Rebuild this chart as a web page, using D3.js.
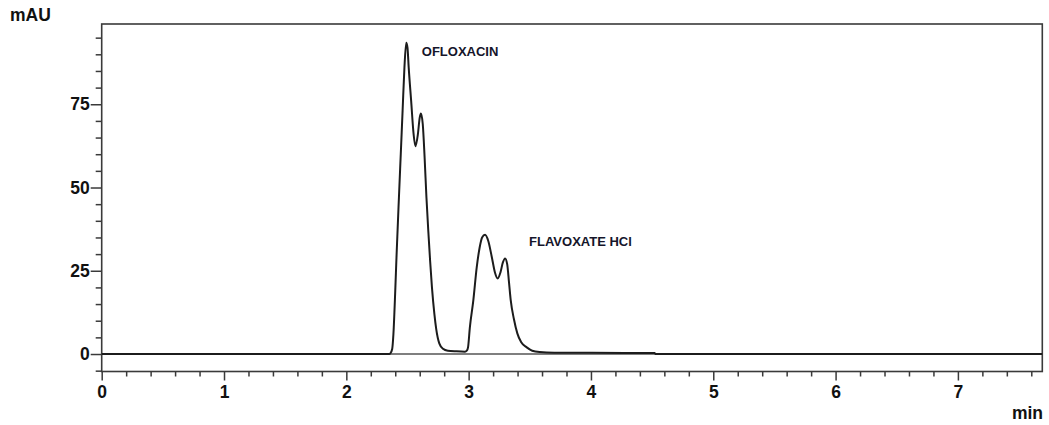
<!DOCTYPE html>
<html>
<head>
<meta charset="utf-8">
<script src="https://cdn.jsdelivr.net/npm/d3@7"></script>
<style>
    body { margin: 0; background: #fff; }
    #chromatogram { width: 1049px; height: 425px; }
    .tick text { font-family: "Liberation Sans", Arial, sans-serif; font-weight: bold; font-size: 17.5px; fill: #111; }
</style>
</head>
<body>
<div id="chromatogram"></div>
<script>

// retention time (min) and absorbance (mAU)
const timeMin = [0, 2.35, 2.36, 2.375, 2.385, 2.40, 2.41, 2.43, 2.445, 2.46, 2.475, 2.49, 2.50, 2.51, 2.53, 2.55, 2.565,
                 2.585, 2.60, 2.61, 2.625, 2.64, 2.655, 2.67, 2.685, 2.70, 2.72, 2.735, 2.76, 2.79, 2.83, 2.90, 2.97, 2.985, 2.995,
                 3.01, 3.038, 3.066, 3.09, 3.11, 3.134, 3.16, 3.19, 3.215, 3.238, 3.26, 3.28, 3.298, 3.315, 3.33, 3.344,
                 3.37, 3.398, 3.43, 3.475, 3.52, 3.58, 3.7, 4.0, 4.5, 4.52, 4.53, 7.69];
const absorbance = [0, 0, 0.2, 1.5, 6, 19, 29, 47, 60, 73, 86, 93.5, 92, 86, 76, 66, 62.4,
                    66, 71, 72.2, 69, 59, 47, 37, 28, 20, 12, 7.5, 3.2, 1.6, 1.0, 0.8, 0.7, 1, 2,
                    8, 16, 26, 32, 35, 35.8, 34, 29, 24.5, 22.7, 24.5, 27.5, 28.7, 27, 21.5, 16.2,
                    10.5, 6.2, 3.5, 2.0, 1.0, 0.6, 0.4, 0.35, 0.3, 0.3, 0, 0];

const xMajorTicks = [0, 1, 2, 3, 4, 5, 6, 7];
const yMajorTicks = [0, 25, 50, 75];

const peakNames = ["OFLOXACIN", "FLAVOXATE HCl"];
const peakLabelTime = [2.617, 3.494];
const peakLabelValue = [89.5, 32.3];


const renderChromatogram = function(svgElem) {

    const frame = {left: 101.7, right: 1042.3, top: 24, bottom: 371.5};

    const xScale = d3.scaleLinear()
                     .domain([0, 7.69])
                     .range([frame.left, frame.right]);

    const yScale = d3.scaleLinear()
                     .domain([-5.25, 99.1])
                     .range([frame.bottom, frame.top]);

    const trace = timeMin.map(function(t, i) {
        return {t: t, v: absorbance[i]};
    });

    // minor ticks every 0.2 min and every 5 mAU
    const xMinor = d3.range(0, 38.5).map(function(i) { return +(i * 0.2).toFixed(1); })
                     .filter(function(t) { return t <= 7.69 && xMajorTicks.indexOf(t) < 0; });
    const yMinor = d3.range(-1, 20).map(function(i) { return i * 5; })
                     .filter(function(v) { return yMajorTicks.indexOf(v) < 0; });

    const axisColor = '#3a3a3a';

    const xMinorAxis = svgElem.append('g')
                              .attr('transform', `translate(0, ${frame.bottom})`)
                              .call(d3.axisBottom(xScale).tickValues(xMinor).tickSize(5).tickFormat(''));
    const xAxisGroup = svgElem.append('g')
                              .attr('id', 'x-axis')
                              .attr('transform', `translate(0, ${frame.bottom})`)
                              .call(d3.axisBottom(xScale).tickValues(xMajorTicks).tickSize(9).tickSizeOuter(0).tickPadding(5));

    const yMinorAxis = svgElem.append('g')
                              .attr('transform', `translate(${frame.left}, 0)`)
                              .call(d3.axisLeft(yScale).tickValues(yMinor).tickSize(6).tickFormat(''));
    const yAxisGroup = svgElem.append('g')
                              .attr('id', 'y-axis')
                              .attr('transform', `translate(${frame.left}, 0)`)
                              .call(d3.axisLeft(yScale).tickValues(yMajorTicks).tickSize(11).tickSizeOuter(0).tickPadding(1));

    svgElem.selectAll('.domain').remove();
    svgElem.selectAll('.tick line')
           .attr('stroke', axisColor)
           .attr('stroke-width', 1.5);

    // plot frame
    svgElem.append('rect')
           .attr('x', frame.left)
           .attr('y', frame.top)
           .attr('width', frame.right - frame.left)
           .attr('height', frame.bottom - frame.top)
           .attr('fill', 'none')
           .attr('stroke', axisColor)
           .attr('stroke-width', 1.6);

    // zero baseline
    svgElem.append('line')
           .attr('x1', frame.left)
           .attr('x2', frame.right)
           .attr('y1', yScale(0))
           .attr('y2', yScale(0))
           .attr('stroke', '#555')
           .attr('stroke-width', 1.4);

    const line = d3.line()
                   .x(function(d) { return xScale(d.t); })
                   .y(function(d) { return yScale(d.v); })
                   .curve(d3.curveMonotoneX);

    svgElem.append('path')
           .datum(trace)
           .attr('d', line)
           .attr('fill', 'none')
           .attr('stroke', '#1c1c1c')
           .attr('stroke-width', 2)
           .attr('stroke-linejoin', 'round');

    svgElem.selectAll('.peak-label')
           .data(peakNames)
           .enter()
           .append('text')
           .attr('class', 'peak-label')
           .attr('x', function(d, i) { return xScale(peakLabelTime[i]); })
           .attr('y', function(d, i) { return yScale(peakLabelValue[i]); })
           .attr('font-family', '"Liberation Sans", Arial, sans-serif')
           .attr('font-weight', 'bold')
           .attr('font-size', 13)
           .attr('fill', '#15152a')
           .text(function(d) { return d; });

    svgElem.append('text')
           .attr('x', 10)
           .attr('y', 20.7)
           .attr('font-family', '"Liberation Sans", Arial, sans-serif')
           .attr('font-weight', 'bold')
           .attr('font-size', 17.5)
           .attr('fill', '#111')
           .text('mAU');

    svgElem.append('text')
           .attr('x', 1043)
           .attr('y', 419)
           .attr('text-anchor', 'end')
           .attr('font-family', '"Liberation Sans", Arial, sans-serif')
           .attr('font-weight', 'bold')
           .attr('font-size', 17.5)
           .attr('fill', '#111')
           .text('min');
};


const svg = d3.select('#chromatogram')
              .append('svg')
              .attr('width', 1049)
              .attr('height', 425);

renderChromatogram(svg);

</script>
</body>
</html>
